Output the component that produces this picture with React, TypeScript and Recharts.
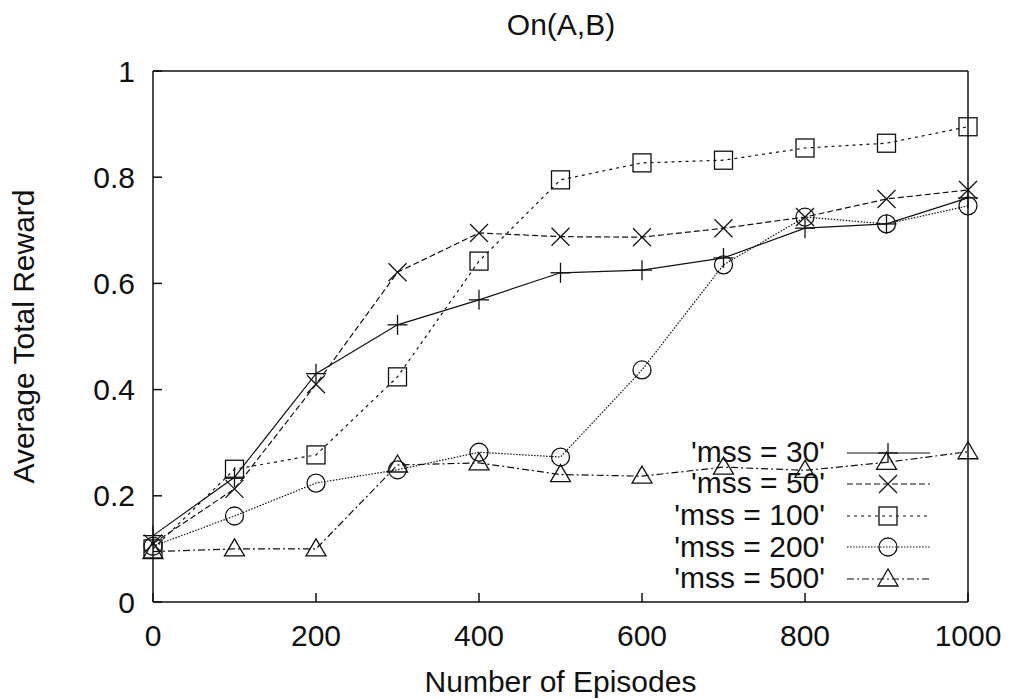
import React from "react";
import {
  LineChart,
  Line,
  XAxis,
  YAxis,
  Label,
} from "recharts";

const episodes = [0, 100, 200, 300, 400, 500, 600, 700, 800, 900, 1000];
const mss30 = [0.125, 0.235, 0.43, 0.522, 0.569, 0.62, 0.625, 0.648, 0.704, 0.712, 0.761];
const mss50 = [0.11, 0.213, 0.41, 0.621, 0.695, 0.688, 0.687, 0.704, 0.725, 0.759, 0.776];
const mss100 = [0.1, 0.25, 0.277, 0.424, 0.642, 0.795, 0.827, 0.832, 0.855, 0.864, 0.895];
const mss200 = [0.105, 0.162, 0.224, 0.249, 0.282, 0.273, 0.437, 0.635, 0.725, 0.712, 0.746];
const mss500 = [0.095, 0.1, 0.1, 0.258, 0.262, 0.24, 0.237, 0.254, 0.248, 0.263, 0.283];

const xTicks = [0, 200, 400, 600, 800, 1000];
const yTicks = [0, 0.2, 0.4, 0.6, 0.8, 1];

const series = [
  { key: "mss30", label: "'mss = 30'", values: mss30, dash: undefined, shape: "plus" },
  { key: "mss50", label: "'mss = 50'", values: mss50, dash: "6 3", shape: "cross" },
  { key: "mss100", label: "'mss = 100'", values: mss100, dash: "3 4", shape: "square" },
  { key: "mss200", label: "'mss = 200'", values: mss200, dash: "1.5 1.5", shape: "circle" },
  { key: "mss500", label: "'mss = 500'", values: mss500, dash: "7 3 2 3", shape: "triangle" },
];

const data = episodes.map((ep, i) => {
  const row: Record<string, number> = { ep };
  series.forEach((s) => (row[s.key] = s.values[i]));
  return row;
});

const ink = "#111";
const font = "'Liberation Sans', Arial, sans-serif";
const fs = 30;

function Marker({ shape, cx, cy }: { shape: string; cx: number; cy: number }) {
  const p = { stroke: ink, strokeWidth: 1.3, fill: "none" };
  if (shape === "plus") {
    return (
      <g {...p}>
        <line x1={cx - 10} y1={cy} x2={cx + 10} y2={cy} />
        <line x1={cx} y1={cy - 10} x2={cx} y2={cy + 10} />
      </g>
    );
  }
  if (shape === "cross") {
    return (
      <g {...p}>
        <line x1={cx - 9} y1={cy - 9} x2={cx + 9} y2={cy + 9} />
        <line x1={cx - 9} y1={cy + 9} x2={cx + 9} y2={cy - 9} />
      </g>
    );
  }
  if (shape === "square") {
    return <rect {...p} x={cx - 9} y={cy - 9} width={18} height={18} />;
  }
  if (shape === "circle") {
    return <circle {...p} cx={cx} cy={cy} r={9} />;
  }
  return (
    <polygon
      {...p}
      points={`${cx},${cy - 10} ${cx - 10},${cy + 7} ${cx + 10},${cy + 7}`}
    />
  );
}

const tickStyle = { fill: ink, fontSize: fs, fontFamily: font };
const fmtY = (v: number) => (v === 0 ? "0" : v === 1 ? "1" : String(v));

export default function App() {
  return (
    <div style={{ position: "relative", width: 1000, height: 691, fontFamily: font }}>
      <div
        style={{
          position: "absolute",
          left: 253,
          width: 600,
          top: 1.6,
          textAlign: "center",
          fontSize: fs,
          lineHeight: "30px",
          color: ink,
        }}
      >
        On(A,B)
      </div>
      <LineChart
        width={1000}
        height={691}
        data={data}
        margin={{ top: 62, right: 39, left: 0, bottom: 0 }}
      >
        <XAxis
          dataKey="ep"
          type="number"
          domain={[0, 1000]}
          ticks={xTicks}
          tick={tickStyle}
          tickSize={-9}
          tickMargin={32}
          height={97}
          stroke={ink}
          strokeWidth={1.5}
        >
          <Label
            value="Number of Episodes"
            position="insideBottom"
            offset={7}
            style={{ fill: ink, fontSize: fs, fontFamily: font }}
          />
        </XAxis>
        <XAxis
          xAxisId="top"
          orientation="top"
          dataKey="ep"
          type="number"
          domain={[0, 1000]}
          ticks={xTicks}
          tick={false}
          tickSize={-9}
          height={1}
          stroke={ink}
          strokeWidth={1.5}
        />
        <YAxis
          type="number"
          domain={[0, 1]}
          ticks={yTicks}
          tickFormatter={fmtY}
          tick={tickStyle}
          tickSize={-9}
          tickMargin={27}
          width={145}
          stroke={ink}
          strokeWidth={1.5}
        >
          <Label
            value="Average Total Reward"
            angle={-90}
            position="center"
            dx={-57.5}
            style={{ fill: ink, fontSize: fs, fontFamily: font, textAnchor: "middle" }}
          />
        </YAxis>
        <YAxis
          yAxisId="right"
          orientation="right"
          type="number"
          domain={[0, 1]}
          ticks={yTicks}
          tick={false}
          tickSize={-9}
          width={1}
          stroke={ink}
          strokeWidth={1.5}
        />
        {series.map((s) => (
          <Line
            key={s.key}
            dataKey={s.key}
            type="linear"
            stroke={ink}
            strokeWidth={1.2}
            strokeDasharray={s.dash}
            isAnimationActive={false}
            dot={(props: any) => (
              <Marker key={`${s.key}-${props.index}`} shape={s.shape} cx={props.cx} cy={props.cy} />
            )}
            activeDot={false}
          />
        ))}
      </LineChart>
      <div style={{ position: "absolute", left: 600, top: 427.8, color: ink }}>
        {series.map((s) => (
          <div
            key={s.key}
            style={{
              display: "flex",
              alignItems: "center",
              height: 31.6,
              fontSize: fs,
              lineHeight: "31.6px",
              whiteSpace: "nowrap",
            }}
          >
            <div style={{ width: 217, textAlign: "right" }}>{s.label}</div>
            <svg width={83} height={32} style={{ marginLeft: 22 }}>
              <line
                x1={0}
                y1={17}
                x2={83}
                y2={17}
                stroke={ink}
                strokeWidth={1.2}
                strokeDasharray={s.dash}
              />
              <Marker shape={s.shape} cx={41} cy={17} />
            </svg>
          </div>
        ))}
      </div>
    </div>
  );
}
